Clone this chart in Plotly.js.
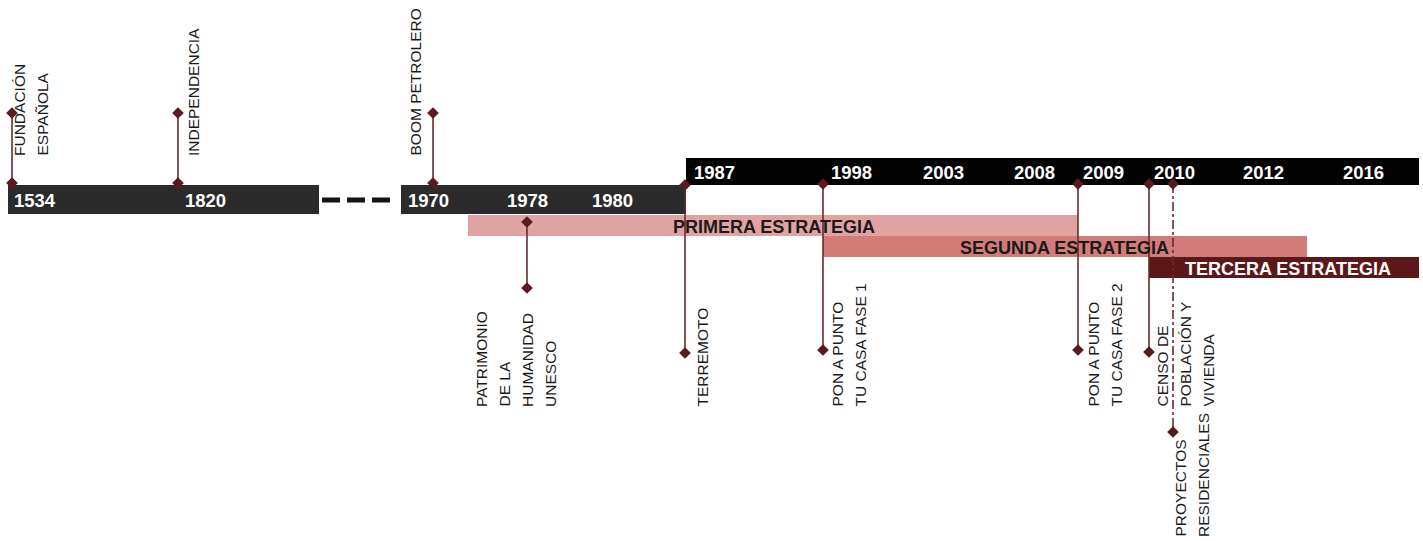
<!DOCTYPE html>
<html>
<head>
<meta charset="utf-8">
<script src="https://cdn.plot.ly/plotly-3.0.1.min.js"></script>
<style>html,body{margin:0;padding:0;background:#fff;}#chart{width:1423px;height:541px;}</style>
</head>
<body>
<div id="chart"></div>
<script>
// ---------- DATA ----------
// Year ticks along the (schematic, non-linear) timeline
const yearLabels = ['1534','1820','1970','1978','1980','1987','1998','2003','2008','2009','2010','2012','2016'];
const yearPos    = [12, 183, 406, 505, 590, 692, 829, 921, 1012, 1081, 1152, 1241, 1341];
const yearBand   = [0, 0, 1, 1, 1, 2, 2, 2, 2, 2, 2, 2, 2];

// Timeline bands (historic / 1970-1987 / 1987-2016)
const bandStart = [8, 401, 686];
const bandEnd   = [319, 686, 1419];
const bandLevel = ['low', 'low', 'high'];
const gapStart = 322, gapEnd = 397;

// Strategies
const strategyNames = ['PRIMERA ESTRATEGIA', 'SEGUNDA ESTRATEGIA', 'TERCERA ESTRATEGIA'];
const strategyStart = [468, 823, 1149];
const strategyEnd   = [1078, 1307, 1419];
const strategyLabelX = [671, 958, 1183];

// Events
const eventLabels = [
  ['FUNDACIÓN', 'ESPAÑOLA'],
  ['INDEPENDENCIA'],
  ['BOOM PETROLERO'],
  ['PATRIMONIO', 'DE LA', 'HUMANIDAD', 'UNESCO'],
  ['TERREMOTO'],
  ['PON A PUNTO', 'TU CASA FASE 1'],
  ['PON A PUNTO', 'TU CASA FASE 2'],
  ['CENSO DE', 'POBLACIÓN Y', 'VIVIENDA'],
  ['PROYECTOS', 'RESIDENCIALES']
];
const eventPos    = [12, 178, 433, 527, 685, 823, 1078, 1149, 1173];
const eventFrom   = [183, 183, 183, 222, 185, 184, 184, 184, 184];
const eventTo     = [113, 113, 113, 288, 353, 350, 350, 352, 432];
const eventDashed = [false, false, false, false, false, false, false, false, true];
const eventLabelX = [19, 193, 415, 481, 702, 837, 1093, 1162, 1180];
const eventLabelBottom = [157, 157, 157, 408, 408, 408, 408, 408, 538];

// ---------- STYLE ----------
const bandColors = ['#2b2b2b', '#2b2b2b', '#030303'];
const levelY = {low: [185, 214], high: [158, 185]};
const strategyColors = ['#e1a2a2', '#d27c79', '#5c1818'];
const strategyTextColors = ['#1a1a1a', '#1a1a1a', '#ffffff'];
const strategyRowY = [[215, 236], [236, 257], [257, 278]];
const stemColor = '#6b2a2e', dotColor = '#5a1a1f';
const lineGap = 23;
const labelFont = {family: 'Liberation Sans, Arial, sans-serif', size: 15.5, color: '#1a1a1a'};

// ---------- BUILD ----------
const shapes = [];
const annotations = [];
const traces = [];

bandStart.forEach((s, i) => {
  const yy = levelY[bandLevel[i]];
  shapes.push({type: 'rect', xref: 'x', yref: 'y', x0: s, x1: bandEnd[i], y0: yy[0], y1: yy[1],
    fillcolor: bandColors[i], line: {width: 0}, layer: 'below'});
});
strategyNames.forEach((n, i) => {
  const yy = strategyRowY[i];
  shapes.push({type: 'rect', xref: 'x', yref: 'y', x0: strategyStart[i], x1: strategyEnd[i], y0: yy[0], y1: yy[1],
    fillcolor: strategyColors[i], line: {width: 0}, layer: 'below'});
});

// gap dashes
traces.push({x: [gapStart, gapEnd], y: [200, 200], mode: 'lines',
  line: {color: '#141414', width: 5, dash: '18px,7px'}, hoverinfo: 'skip', showlegend: false});

// event stems
eventPos.forEach((x, i) => {
  traces.push({x: [x, x], y: [eventFrom[i], eventTo[i]], mode: 'lines+markers',
    line: {color: stemColor, width: 1.6, dash: eventDashed[i] ? 'dashdot' : 'solid'},
    marker: {symbol: 'diamond', size: 9, color: dotColor},
    hoverinfo: 'skip', showlegend: false});
});

// year labels
yearLabels.forEach((t, i) => {
  const band = yearBand[i];
  const yy = levelY[bandLevel[band]];
  annotations.push({x: yearPos[i], y: (yy[0] + yy[1]) / 2 + 1, xref: 'x', yref: 'y', text: t,
    showarrow: false, xanchor: 'left', yanchor: 'middle',
    font: {family: 'Liberation Sans, Arial, sans-serif', size: 18.5, color: '#ffffff', weight: 'bold'}});
});

// strategy labels
strategyNames.forEach((n, i) => {
  const yy = strategyRowY[i];
  annotations.push({x: strategyLabelX[i], y: (yy[0] + yy[1]) / 2 + 1, xref: 'x', yref: 'y', text: '<b>' + n + '</b>',
    showarrow: false, xanchor: 'left', yanchor: 'middle',
    font: {family: 'Liberation Sans, Arial, sans-serif', size: 18, color: strategyTextColors[i]}});
});

// event labels (vertical)
eventLabels.forEach((lines, i) => {
  lines.forEach((ln, j) => {
    annotations.push({x: eventLabelX[i] + j * lineGap, y: eventLabelBottom[i], xref: 'x', yref: 'y', text: ln,
      showarrow: false, textangle: -90, xanchor: 'center', yanchor: 'bottom', borderpad: 0,
      font: labelFont});
  });
});

const layout = {
  width: 1423, height: 541,
  margin: {l: 0, r: 0, t: 0, b: 0},
  paper_bgcolor: '#ffffff', plot_bgcolor: '#ffffff',
  xaxis: {range: [0, 1423], visible: false, fixedrange: true},
  yaxis: {range: [541, 0], visible: false, fixedrange: true},
  shapes: shapes, annotations: annotations, showlegend: false
};
Plotly.newPlot('chart', traces, layout, {staticPlot: true, displayModeBar: false});
</script>
</body>
</html>
